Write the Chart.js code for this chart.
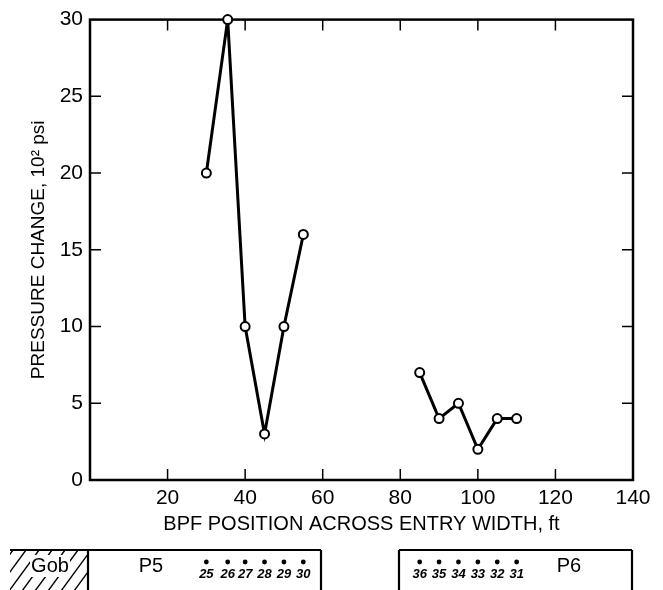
<!DOCTYPE html>
<html><head><meta charset="utf-8">
<script src="https://cdn.jsdelivr.net/npm/chart.js@4/dist/chart.umd.min.js"></script>
<style>html,body{margin:0;padding:0;background:#fff;}#wrap{width:663px;height:590px;position:relative;}</style>
</head><body><div id="wrap"><canvas id="c" width="663" height="590"></canvas></div>
<script>
// ---- data ----
const positionsP5 = [30, 35.5, 40, 45, 50, 55];
const pressureP5  = [20, 30, 10, 3, 10, 16];
const positionsP6 = [85, 90, 95, 100, 105, 110];
const pressureP6  = [7, 4, 5, 2, 4, 4];
const gaugesP5 = ['25','26','27','28','29','30'];
const gaugesP6 = ['36','35','34','33','32','31'];
const xTickValues = [20, 40, 60, 80, 100, 120, 140];
const yTickValues = [0, 5, 10, 15, 20, 25, 30];
const xTitle = 'BPF POSITION ACROSS ENTRY WIDTH, ft';
const yTitle = 'PRESSURE CHANGE, 10\u00B2 psi';

const FONT = '"Liberation Sans", Arial, sans-serif';

function toPoints(xs, ys){ return xs.map((x,i)=>({x:x, y:ys[i]})); }

const framePlugin = {
  id:'frame',
  beforeDatasetsDraw(chart){
    const {ctx, chartArea:a, scales:{x, y}} = chart;
    ctx.save();
    ctx.strokeStyle = '#000';
    ctx.lineWidth = 2.5;
    ctx.strokeRect(a.left, a.top, a.right-a.left, a.bottom-a.top);
    ctx.lineWidth = 1.5;
    const tl = 11;
    ctx.beginPath();
    xTickValues.forEach(v=>{
      const px = x.getPixelForValue(v);
      if (px >= a.right-1) return;
      ctx.moveTo(px, a.bottom); ctx.lineTo(px, a.bottom-tl);
      ctx.moveTo(px, a.top); ctx.lineTo(px, a.top+tl);
    });
    yTickValues.forEach(v=>{
      const py = y.getPixelForValue(v);
      if (py <= a.top+1 || py >= a.bottom-1) return;
      ctx.moveTo(a.left, py); ctx.lineTo(a.left+tl, py);
      ctx.moveTo(a.right, py); ctx.lineTo(a.right-tl, py);
    });
    ctx.stroke();
    ctx.restore();
  }
};

const schematicPlugin = {
  id:'schematic',
  afterDraw(chart){
    const {ctx, scales:{x}} = chart;
    const top = 550, bot = 591;
    const gobL = 10, gobR = 88, p5R = 321, p6L = 399, p6R = 632;
    ctx.save();
    ctx.strokeStyle = '#000';
    ctx.fillStyle = '#000';
    // hatching of gob
    ctx.save();
    ctx.beginPath(); ctx.rect(gobL, top, gobR-gobL, bot-top); ctx.clip();
    ctx.lineWidth = 1.4;
    ctx.beginPath();
    for (let s = gobL - 40; s < gobR + 10; s += 13) {
      ctx.moveTo(s, bot); ctx.lineTo(s + 30, top);
    }
    ctx.stroke();
    ctx.restore();
    // white behind "Gob"
    ctx.fillStyle = '#fff';
    ctx.fillRect(30, 555, 40, 22);
    ctx.fillStyle = '#000';
    // outlines
    ctx.lineWidth = 2.2;
    ctx.beginPath();
    ctx.moveTo(gobL, top); ctx.lineTo(p5R, top);
    ctx.moveTo(gobR, top); ctx.lineTo(gobR, bot);
    ctx.moveTo(p5R, top); ctx.lineTo(p5R, bot);
    ctx.moveTo(p6L, top); ctx.lineTo(p6R, top);
    ctx.moveTo(p6L, top); ctx.lineTo(p6L, bot);
    ctx.moveTo(p6R, top); ctx.lineTo(p6R, bot);
    ctx.stroke();
    // labels
    ctx.textAlign = 'center';
    ctx.textBaseline = 'middle';
    ctx.font = '20px ' + FONT;
    ctx.fillText('Gob', 50, 566);
    ctx.fillText('P5', 151, 566);
    ctx.fillText('P6', 569, 566);
    // gauge dots and numbers
    ctx.font = 'italic bold 13px ' + FONT;
    const drawG = (xs, labels) => {
      xs.forEach((v,i)=>{
        const px = x.getPixelForValue(v);
        ctx.beginPath(); ctx.arc(px, 562, 2.4, 0, Math.PI*2); ctx.fill();
        ctx.fillText(labels[i], px, 574);
      });
    };
    drawG(positionsP5, gaugesP5);
    drawG(positionsP6, gaugesP6);
    ctx.restore();
  }
};

const lineStyle = {
  borderColor:'#000', borderWidth:3, pointRadius:4.5, pointBorderWidth:2,
  pointBackgroundColor:'#fff', pointBorderColor:'#000', tension:0, clip:false, fill:false
};

new Chart(document.getElementById('c'), {
  type:'line',
  data:{ datasets:[
    Object.assign({label:'P5', data: toPoints(positionsP5, pressureP5)}, lineStyle),
    Object.assign({label:'P6', data: toPoints(positionsP6, pressureP6)}, lineStyle)
  ]},
  options:{
    responsive:false, animation:false, devicePixelRatio:1,
    layout:{ padding:{ left:0, right:30, top:15, bottom:50 } },
    plugins:{ legend:{display:false}, tooltip:{enabled:false} },
    scales:{
      x:{ type:'linear', min:0, max:140,
        afterBuildTicks(s){ s.ticks = [0].concat(xTickValues).map(v=>({value:v})); },
        afterFit(s){ s.height = 60; },
        grid:{ display:false, drawTicks:false }, border:{display:false},
        ticks:{ color:'#000', padding:6, maxRotation:0, autoSkip:false,
          font:{ family:FONT, size:21 }, callback:(v)=> v===0 ? '' : String(v) },
        title:{ display:true, text:xTitle, color:'#000', font:{family:FONT, size:20}, padding:{top:0,bottom:4} }
      },
      y:{ type:'linear', min:0, max:30,
        afterBuildTicks(s){ s.ticks = yTickValues.map(v=>({value:v})); },
        afterFit(s){ s.width = 90; },
        grid:{ display:false, drawTicks:false }, border:{display:false},
        ticks:{ color:'#000', padding:7, autoSkip:false, font:{ family:FONT, size:21 } },
        title:{ display:true, text:yTitle, color:'#000', font:{family:FONT, size:19}, padding:{top:27,bottom:0} }
      }
    }
  },
  plugins:[framePlugin, schematicPlugin]
});
</script></body></html>
